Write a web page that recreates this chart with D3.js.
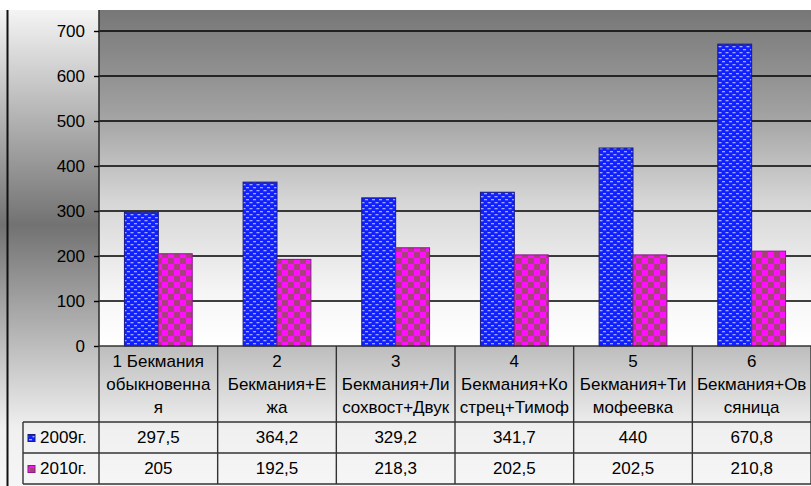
<!DOCTYPE html>
<html>
<head>
<meta charset="utf-8">
<script src="https://cdn.jsdelivr.net/npm/d3@7"></script>
<style>
  html, body { margin: 0; padding: 0; background: #fff; }
  svg { display: block; font-family: "Liberation Sans", Arial, sans-serif; }
  svg text { font-family: "Liberation Sans", Arial, sans-serif; font-size: 17px; fill: #000; }
</style>
</head>
<body>
<svg id="chart" width="811" height="486"></svg>
<script>
// Yield by mixture, two seasons
const categories = [
  ["1 Бекмания", "обыкновенна", "я"],
  ["2", "Бекмания+Е", "жа"],
  ["3", "Бекмания+Ли", "сохвост+Двук"],
  ["4", "Бекмания+Ко", "стрец+Тимоф"],
  ["5", "Бекмания+Ти", "мофеевка"],
  ["6", "Бекмания+Ов", "сяница"]
];
const seriesNames = ["2009г.", "2010г."];
const values2009 = [297.5, 364.2, 329.2, 341.7, 440, 670.8];
const values2010 = [205, 192.5, 218.3, 202.5, 202.5, 210.8];
const yTicks = [0, 100, 200, 300, 400, 500, 600, 700];

const series = [values2009, values2010];
const fmt = v => String(v).replace(".", ",");

const svg = d3.select("#chart");
const W = 811, H = 486;
const plot = { left: 99, right: 811, top: 10, bottom: 346 };
const table = { legendLeft: 23, headerBottom: 422, rowH: 31 };

const defs = svg.append("defs");

// chart-area background: light, dark in the middle, light again
const bgGrad = defs.append("linearGradient").attr("id", "bgGrad")
  .attr("gradientUnits", "userSpaceOnUse")
  .attr("x1", 0).attr("y1", 10).attr("x2", 0).attr("y2", 486);
[[0, "#f4f4f4"], [0.452, "#727272"], [0.88, "#f0f0f0"], [1, "#f6f6f6"]]
  .forEach(([o, c]) => bgGrad.append("stop").attr("offset", o).attr("stop-color", c));

// plot-area background: dark grey at top fading to white
const plotGrad = defs.append("linearGradient").attr("id", "plotGrad")
  .attr("x1", 0).attr("y1", 0).attr("x2", 0).attr("y2", 1);
[[0, "#777777"], [0.3, "#a0a0a0"], [0.57, "#d6d6d6"], [0.85, "#f6f6f6"], [1, "#ffffff"]]
  .forEach(([o, c]) => plotGrad.append("stop").attr("offset", o).attr("stop-color", c));

// blue fill with light dashes
const pBlue = defs.append("pattern").attr("id", "pBlue")
  .attr("patternUnits", "userSpaceOnUse").attr("width", 7).attr("height", 6);
pBlue.append("rect").attr("width", 7).attr("height", 6).attr("fill", "#1020ff");
pBlue.append("rect").attr("x", 1).attr("y", 1).attr("width", 3).attr("height", 1.3).attr("fill", "#a0aaff");
pBlue.append("rect").attr("x", 4.5).attr("y", 4).attr("width", 3).attr("height", 1.3).attr("fill", "#a0aaff");
pBlue.append("rect").attr("x", -2.5).attr("y", 4).attr("width", 3).attr("height", 1.3).attr("fill", "#a0aaff");

// magenta checkerboard
const pMag = defs.append("pattern").attr("id", "pMag")
  .attr("patternUnits", "userSpaceOnUse").attr("width", 12).attr("height", 12);
pMag.append("rect").attr("width", 12).attr("height", 12).attr("fill", "#ff10ff");
pMag.append("rect").attr("x", 6).attr("y", 0).attr("width", 6).attr("height", 6).attr("fill", "#a8407a");
pMag.append("rect").attr("x", 0).attr("y", 6).attr("width", 6).attr("height", 6).attr("fill", "#a8407a");

const fills = ["url(#pBlue)", "url(#pMag)"];
const strokes = ["#1a1a80", "#8a1a8a"];

// backgrounds
svg.append("rect").attr("x", 0).attr("y", 10).attr("width", W).attr("height", H - 10)
  .attr("fill", "url(#bgGrad)");
svg.append("rect").attr("x", plot.left).attr("y", plot.top)
  .attr("width", plot.right - plot.left).attr("height", plot.bottom - plot.top)
  .attr("fill", "url(#plotGrad)");

// scales
const x = d3.scaleBand().domain(d3.range(categories.length))
  .range([plot.left, plot.right]).paddingInner(0).paddingOuter(0);
const xs = d3.scaleBand().domain(d3.range(series.length))
  .range([0, x.bandwidth()]).paddingInner(0).paddingOuter(0.75);
const y = d3.scaleLinear().domain([0, 750]).range([plot.bottom, plot.bottom - 337.5]);

// gridlines
svg.append("g").selectAll("line").data(yTicks.filter(t => t > 0)).join("line")
  .attr("x1", plot.left).attr("x2", plot.right)
  .attr("y1", d => y(d)).attr("y2", d => y(d))
  .attr("stroke", "#000").attr("stroke-width", 1.6);

// value axis
const yAxis = svg.append("g").attr("transform", `translate(${plot.left},0)`)
  .call(d3.axisLeft(y).tickValues(yTicks).tickSize(5).tickPadding(9).tickFormat(d => d));
yAxis.attr("font-size", null).attr("font-family", null);
yAxis.select(".domain").attr("stroke", "#333").attr("stroke-width", 1.6)
  .attr("d", `M0,${plot.top}V${plot.bottom}`);
yAxis.selectAll(".tick line").attr("stroke", "#000").attr("stroke-width", 1.4);
yAxis.selectAll(".tick text").style("font-size", "17px").attr("fill", "#000");

// bars
series.forEach((vals, si) => {
  svg.append("g").selectAll("rect").data(vals).join("rect")
    .attr("x", (d, i) => x(i) + xs(si))
    .attr("y", d => y(d))
    .attr("width", xs.bandwidth())
    .attr("height", d => y(0) - y(d))
    .attr("fill", fills[si])
    .attr("stroke", strokes[si]).attr("stroke-width", 1);
});

// data table
const tg = svg.append("g");
const lineColor = "#333";
const rowTop = i => table.headerBottom + i * table.rowH;
const tableBottom = rowTop(series.length);

// horizontal rules
tg.append("line").attr("x1", plot.left).attr("x2", plot.right)
  .attr("y1", plot.bottom).attr("y2", plot.bottom)
  .attr("stroke", lineColor).attr("stroke-width", 1.6);
d3.range(series.length + 1).forEach(i => {
  tg.append("line").attr("x1", table.legendLeft).attr("x2", plot.right)
    .attr("y1", rowTop(i)).attr("y2", rowTop(i))
    .attr("stroke", lineColor).attr("stroke-width", 1.4);
});
// vertical rules
d3.range(categories.length + 1).forEach(i => {
  const xx = i < categories.length ? x(i) : plot.right;
  tg.append("line").attr("x1", xx).attr("x2", xx)
    .attr("y1", plot.bottom).attr("y2", tableBottom)
    .attr("stroke", lineColor).attr("stroke-width", 1.4);
});
tg.append("line").attr("x1", table.legendLeft).attr("x2", table.legendLeft)
  .attr("y1", table.headerBottom).attr("y2", tableBottom)
  .attr("stroke", lineColor).attr("stroke-width", 1.4);

// category labels
categories.forEach((lines, i) => {
  const t = tg.append("text").attr("text-anchor", "middle");
  lines.forEach((ln, k) => {
    t.append("tspan").attr("x", x(i) + x.bandwidth() / 2)
      .attr("y", 361 + k * 23).attr("dy", "0.35em").text(ln);
  });
});

// series rows: legend keys, names, values
series.forEach((vals, si) => {
  const cy = rowTop(si) + table.rowH / 2;
  tg.append("rect").attr("x", 28).attr("y", cy - 3).attr("width", 7).attr("height", 7)
    .attr("fill", fills[si]).attr("stroke", strokes[si]).attr("stroke-width", 1);
  tg.append("text").attr("x", 40).attr("y", cy).attr("dy", "0.35em").text(seriesNames[si]);
  tg.append("g").selectAll("text").data(vals).join("text")
    .attr("x", (d, i) => x(i) + x.bandwidth() / 2)
    .attr("y", cy).attr("dy", "0.35em").attr("text-anchor", "middle")
    .text(d => fmt(d));
});

// chart-area left border
svg.append("line").attr("x1", 7.5).attr("x2", 7.5).attr("y1", 10).attr("y2", H)
  .attr("stroke", "#111").attr("stroke-width", 2);
</script>
</body>
</html>
